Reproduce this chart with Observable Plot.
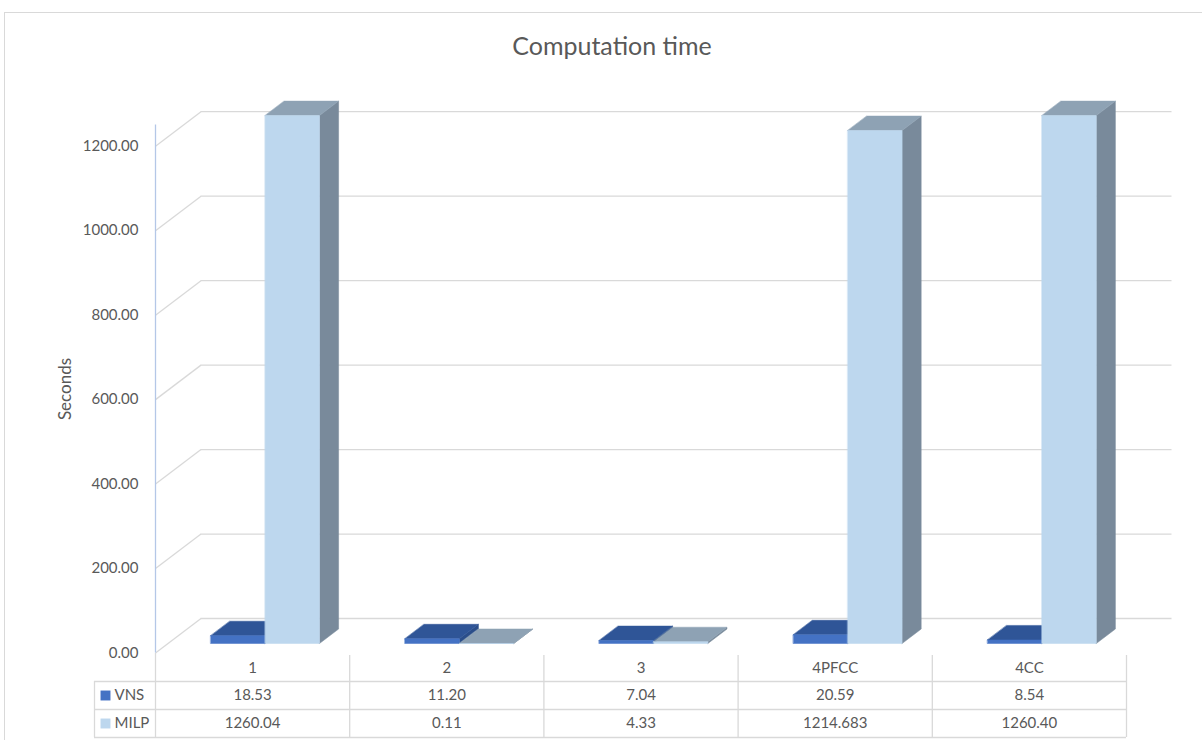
<!DOCTYPE html>
<html><head><meta charset="utf-8">
<script src="https://cdn.jsdelivr.net/npm/d3@7"></script>
<script src="https://cdn.jsdelivr.net/npm/@observablehq/plot@0.6"></script>
<style>
body{margin:0;background:#fff;font-family:Lato,"Open Sans",sans-serif;overflow:hidden;}
#frame{position:absolute;left:4px;top:12px;width:1300px;height:800px;border:1px solid #d9d9d9;pointer-events:none;}
#title{position:relative;height:70px;}
#title span{position:absolute;left:0;width:1224px;top:30px;text-align:center;font-size:25px;color:#595959;line-height:30px;}
#chart svg{display:block;}
</style></head><body>
<div id="frame"></div>
<div id="title"><span>Computation time</span></div>
<div id="chart"></div>
<script>
// ---- data ----
const categories = ["1", "2", "3", "4PFCC", "4CC"];
const seriesNames = ["VNS", "MILP"];
const vnsValues = [18.53, 11.20, 7.04, 20.59, 8.54];
const milpValues = [1260.04, 0.11, 4.33, 1214.683, 1260.40];
const yTicks = [0, 200, 400, 600, 800, 1000, 1200];
const yMax = 1250;
const yLabel = "Seconds";
const seriesColors = {
  VNS:  {front: "#4472C4", top: "#2F5597", side: "#2B4E8A"},
  MILP: {front: "#BDD7EE", top: "#8EA2B4", side: "#798A9B"}
};

// ---- layout ----
const W = 1202, H = 670, ML = 155, MR = 76, MT = 54.6, MB = 87.5;
const nCat = categories.length;
const catPx = (W - ML - MR) / nCat;
const kPx = (H - MT - MB) / yMax;          // px per data unit
const DXu = 45.5 / catPx;                  // depth offset in x units
const DYu = 34.5 / kPx;                    // depth offset in y units
const px = p => p / kPx;                   // pixel distance -> y units
const gapU = 0.22, barU = 0.28, f0 = 0.275, f1 = 0.695;
const legendLeftU = (94 - ML) / catPx;
const yLabelU = (65 - ML) / catPx;

const fmt = d => {
  const s = String(d);
  const dec = Math.max(2, (s.split(".")[1] || "").length);
  return d.toFixed(dec);
};

// build faces of the 3D columns (derived from the values)
const series = [vnsValues, milpValues];
const pts = [];
categories.forEach((c, i) => {
  seriesNames.forEach((name, s) => {
    const v = Math.min(series[s][i], yMax);
    const x0 = i + gapU + s * barU, x1 = x0 + barU;
    const a = f0 * DXu, b = f0 * DYu, a2 = f1 * DXu, b2 = f1 * DYu;
    const col = seriesColors[name];
    const faces = [
      ["side", col.side, [[x1 + a, b], [x1 + a2, b2], [x1 + a2, v + b2], [x1 + a, v + b]]],
      ["top", col.top, [[x0 + a, v + b], [x1 + a, v + b], [x1 + a2, v + b2], [x0 + a2, v + b2]]],
      ["front", col.front, [[x0 + a, b], [x1 + a, b], [x1 + a, v + b], [x0 + a, v + b]]]
    ];
    for (const [f, color, poly] of faces) {
      for (const [x, y] of poly) pts.push({id: `${i}-${s}-${f}`, x, y, color});
    }
  });
});

const grid = "#d9d9d9";
const rowDy = {head: 15.5, VNS: 42.5, MILP: 70.5};

const marks = [
  // back wall gridlines and diagonals
  Plot.ruleY(yTicks, {y: d => d + DYu, x1: () => DXu, x2: () => nCat + DXu, stroke: grid, strokeWidth: 1.3}),
  Plot.link(yTicks, {x1: () => 0, y1: d => d, x2: () => DXu, y2: d => d + DYu, stroke: grid, strokeWidth: 1.3}),
  // axis line
  Plot.ruleX([0], {y1: () => 0, y2: () => yMax, stroke: "#B4C7E7", strokeWidth: 1.3}),
  // 3D columns
  Plot.line(pts, {x: "x", y: "y", z: "id", fill: "color", stroke: "color", strokeWidth: 0.5, curve: "linear-closed"}),
  // y axis
  Plot.axisY(yTicks, {tickFormat: d => d.toFixed(2), tickSize: 0, tickPadding: 17, fontSize: 15, fill: "#595959", label: null}),
  Plot.text([yLabel], {x: () => yLabelU, y: () => yMax / 2, text: d => d, rotate: -90, fontSize: 17, fill: "#595959"}),
  // data table lines
  Plot.ruleY([28.5, 56.5, 84.5], {y: d => -px(d), x1: () => legendLeftU, x2: () => nCat, stroke: grid, strokeWidth: 1.3}),
  Plot.ruleX(d3.range(1, nCat + 1), {x: d => d, y1: () => -px(2.5), y2: () => -px(84.5), stroke: grid, strokeWidth: 1.3}),
  Plot.ruleX([0], {y1: () => -px(0.5), y2: () => -px(84.5), stroke: grid, strokeWidth: 1.3}),
  Plot.ruleX([legendLeftU], {y1: () => -px(28.5), y2: () => -px(84.5), stroke: grid, strokeWidth: 1.3}),
  // table text
  Plot.text(categories, {x: (d, i) => i + 0.5, y: () => 0, dy: rowDy.head, text: d => d, fontSize: 15, fill: "#595959"}),
  Plot.text(vnsValues, {x: (d, i) => i + 0.5, y: () => 0, dy: rowDy.VNS, text: fmt, fontSize: 15, fill: "#595959"}),
  Plot.text(milpValues, {x: (d, i) => i + 0.5, y: () => 0, dy: rowDy.MILP, text: fmt, fontSize: 15, fill: "#595959"}),
  // legend keys in table
  ...seriesNames.flatMap(name => [
    Plot.dot([name], {x: () => legendLeftU, y: () => 0, dx: 11, dy: rowDy[name], symbol: "square", r: 5.6, fill: seriesColors[name].front, stroke: "none"}),
    Plot.text([name], {x: () => legendLeftU, y: () => 0, dx: 20, dy: rowDy[name], text: d => d, textAnchor: "start", fontSize: 15, fill: "#595959"})
  ])
];

const chart = Plot.plot({
  width: W, height: H,
  marginLeft: ML, marginRight: MR, marginTop: MT, marginBottom: MB,
  x: {type: "linear", domain: [0, nCat], axis: null},
  y: {type: "linear", domain: [0, yMax], axis: null},
  color: {type: "identity"},
  style: {fontFamily: "Lato, 'Open Sans', sans-serif", fontSize: "15px", color: "#595959", background: "transparent", overflow: "visible"},
  marks
});
document.getElementById("chart").appendChild(chart);
</script>
</body></html>
